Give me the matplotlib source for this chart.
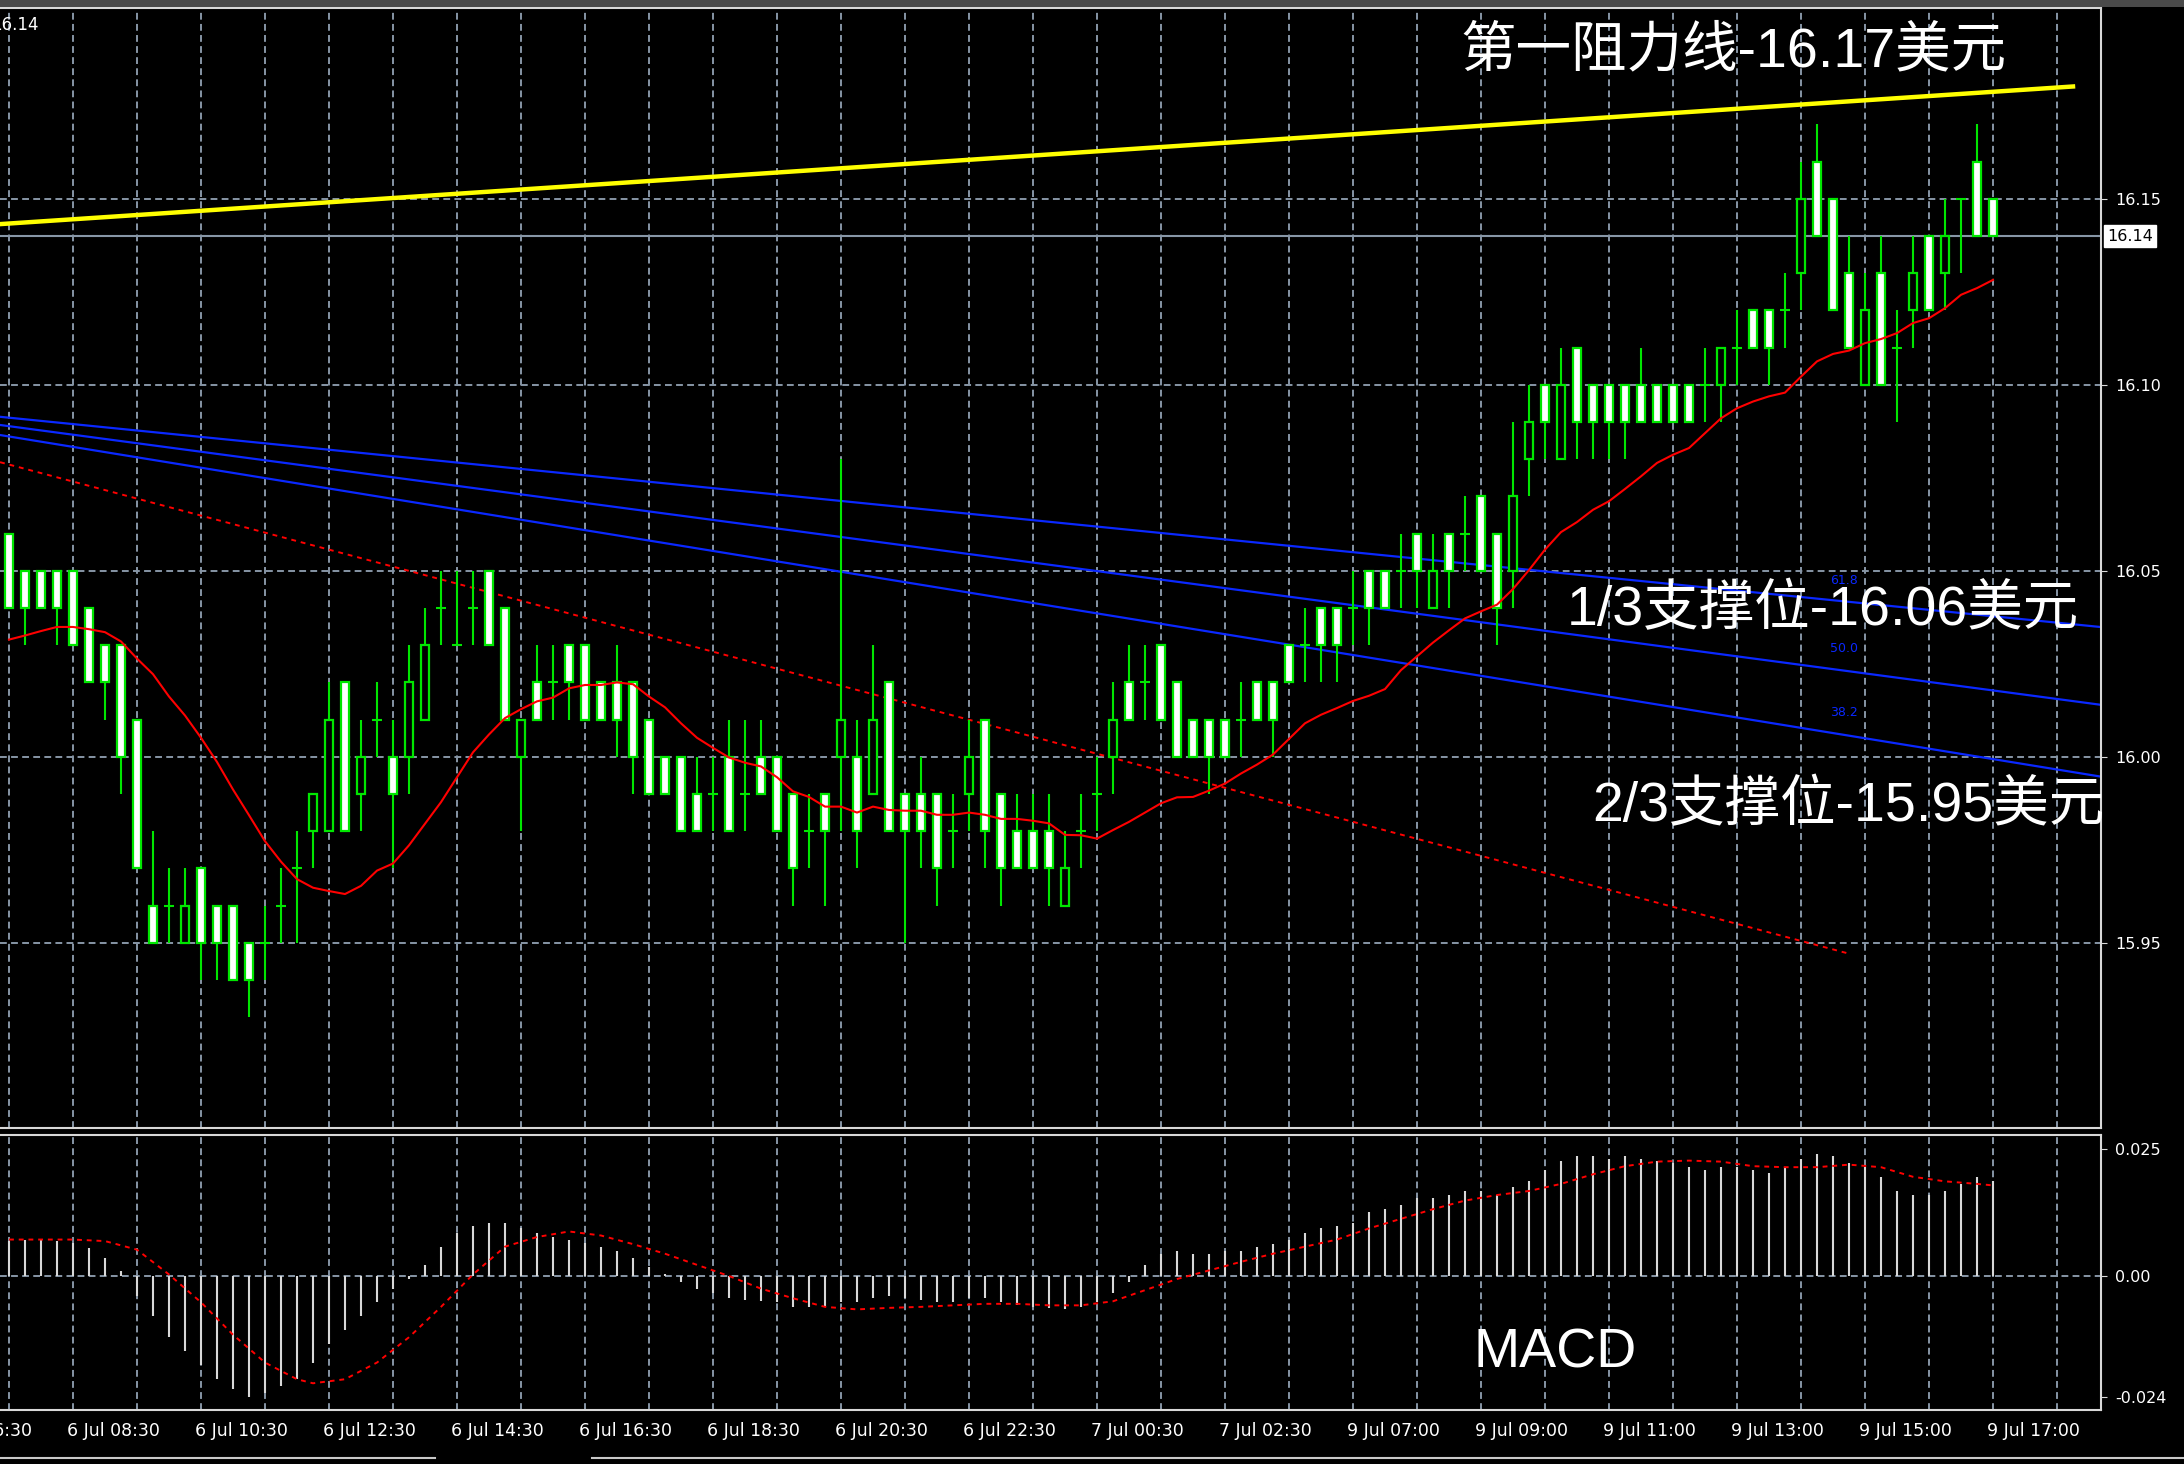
import matplotlib
matplotlib.use('Agg')
import matplotlib.pyplot as plt
import matplotlib.transforms as mtransforms

plt.rcParams['font.family'] = ['Noto Sans CJK SC', 'DejaVu Sans']

# M15 candles, index 0 = 6 Jul 07:30
opens = [16.06, 16.05, 16.05, 16.05, 16.05, 16.04, 16.03, 16.03, 16.01, 15.96,
         15.96, 15.95, 15.97, 15.96, 15.96, 15.95, 15.95, 15.96, 15.97, 15.98,
         15.98, 16.02, 15.99, 16.01, 16.00, 16.00, 16.01, 16.04, 16.03, 16.04,
         16.05, 16.04, 16.00, 16.02, 16.02, 16.03, 16.03, 16.02, 16.02, 16.02,
         16.01, 16.00, 16.00, 15.99, 15.99, 16.00, 15.99, 16.00, 16.00, 15.99,
         15.98, 15.99, 16.00, 16.00, 15.99, 16.02, 15.99, 15.99, 15.99, 15.98,
         15.99, 16.01, 15.99, 15.98, 15.98, 15.98, 15.96, 15.98, 15.99, 16.00,
         16.02, 16.02, 16.03, 16.02, 16.01, 16.01, 16.01, 16.01, 16.02, 16.02,
         16.03, 16.03, 16.04, 16.04, 16.04, 16.05, 16.05, 16.05, 16.06, 16.04,
         16.06, 16.06, 16.07, 16.06, 16.05, 16.08, 16.10, 16.08, 16.11, 16.10,
         16.10, 16.10, 16.10, 16.10, 16.10, 16.10, 16.10, 16.10, 16.11, 16.12,
         16.12, 16.12, 16.13, 16.16, 16.15, 16.13, 16.10, 16.13, 16.11, 16.12,
         16.14, 16.13, 16.15, 16.16, 16.15]
highs = [16.06, 16.05, 16.05, 16.05, 16.05, 16.04, 16.03, 16.03, 16.01, 15.98,
         15.97, 15.97, 15.97, 15.96, 15.96, 15.95, 15.96, 15.97, 15.98, 15.99,
         16.02, 16.02, 16.01, 16.02, 16.01, 16.03, 16.04, 16.05, 16.05, 16.05,
         16.05, 16.04, 16.01, 16.03, 16.03, 16.03, 16.03, 16.02, 16.03, 16.02,
         16.01, 16.00, 16.00, 16.00, 16.00, 16.01, 16.01, 16.01, 16.00, 15.99,
         15.99, 15.99, 16.08, 16.01, 16.03, 16.02, 15.99, 16.00, 15.99, 15.99,
         16.01, 16.01, 15.99, 15.99, 15.99, 15.99, 15.98, 15.99, 16.00, 16.02,
         16.03, 16.03, 16.03, 16.02, 16.01, 16.01, 16.01, 16.02, 16.02, 16.02,
         16.03, 16.04, 16.04, 16.04, 16.05, 16.05, 16.05, 16.06, 16.06, 16.06,
         16.06, 16.07, 16.07, 16.06, 16.09, 16.10, 16.10, 16.11, 16.11, 16.10,
         16.10, 16.10, 16.11, 16.10, 16.10, 16.10, 16.11, 16.11, 16.12, 16.12,
         16.12, 16.13, 16.16, 16.17, 16.15, 16.14, 16.13, 16.14, 16.12, 16.14,
         16.14, 16.15, 16.15, 16.17, 16.15]
lows = [16.04, 16.03, 16.04, 16.03, 16.03, 16.02, 16.01, 15.99, 15.97, 15.95,
        15.95, 15.95, 15.94, 15.94, 15.94, 15.93, 15.94, 15.95, 15.95, 15.97,
        15.98, 15.98, 15.98, 16.00, 15.97, 15.99, 16.01, 16.03, 16.03, 16.03,
        16.03, 16.01, 15.98, 16.01, 16.01, 16.01, 16.01, 16.01, 16.00, 15.99,
        15.99, 15.99, 15.98, 15.98, 15.98, 15.98, 15.98, 15.99, 15.98, 15.96,
        15.97, 15.96, 15.98, 15.97, 15.99, 15.98, 15.95, 15.97, 15.96, 15.97,
        15.98, 15.97, 15.96, 15.97, 15.97, 15.96, 15.96, 15.97, 15.98, 15.99,
        16.01, 16.01, 16.01, 16.00, 16.00, 15.99, 16.00, 16.00, 16.01, 16.00,
        16.02, 16.02, 16.02, 16.02, 16.03, 16.03, 16.04, 16.04, 16.04, 16.04,
        16.04, 16.05, 16.05, 16.03, 16.04, 16.07, 16.08, 16.08, 16.08, 16.08,
        16.08, 16.08, 16.09, 16.09, 16.09, 16.09, 16.09, 16.09, 16.10, 16.11,
        16.10, 16.11, 16.12, 16.14, 16.12, 16.11, 16.10, 16.10, 16.09, 16.11,
        16.12, 16.12, 16.13, 16.14, 16.14]
closes = [16.04, 16.04, 16.04, 16.04, 16.03, 16.02, 16.02, 16.00, 15.97, 15.95,
          15.96, 15.96, 15.95, 15.95, 15.94, 15.94, 15.95, 15.96, 15.97, 15.99,
          16.01, 15.98, 16.00, 16.01, 15.99, 16.02, 16.03, 16.04, 16.03, 16.04,
          16.03, 16.01, 16.01, 16.01, 16.02, 16.02, 16.01, 16.01, 16.01, 16.00,
          15.99, 15.99, 15.98, 15.98, 15.99, 15.98, 15.99, 15.99, 15.98, 15.97,
          15.98, 15.98, 16.01, 15.98, 16.01, 15.98, 15.98, 15.98, 15.97, 15.98,
          16.00, 15.98, 15.97, 15.97, 15.97, 15.97, 15.97, 15.98, 15.99, 16.01,
          16.01, 16.02, 16.01, 16.00, 16.00, 16.00, 16.00, 16.01, 16.01, 16.01,
          16.02, 16.03, 16.03, 16.03, 16.04, 16.04, 16.04, 16.05, 16.05, 16.05,
          16.05, 16.06, 16.05, 16.04, 16.07, 16.09, 16.09, 16.10, 16.09, 16.09,
          16.09, 16.09, 16.09, 16.09, 16.09, 16.09, 16.10, 16.11, 16.11, 16.11,
          16.11, 16.12, 16.15, 16.14, 16.12, 16.11, 16.12, 16.10, 16.11, 16.13,
          16.12, 16.14, 16.15, 16.14, 16.14]

# moving average (red line), one value per candle
ma_line = [16.0315, 16.0326, 16.0338, 16.0349, 16.0349, 16.0343, 16.0335, 16.0310, 16.0264, 16.0222,
           16.0162, 16.0111, 16.0051, 15.9986, 15.9912, 15.9843, 15.9773, 15.9718, 15.9671, 15.9648,
           15.9639, 15.9631, 15.9653, 15.9694, 15.9713, 15.9762, 15.9820, 15.9878, 15.9945, 16.0012,
           16.0060, 16.0104, 16.0128, 16.0149, 16.0159, 16.0184, 16.0193, 16.0193, 16.0200, 16.0195,
           16.0162, 16.0133, 16.0090, 16.0051, 16.0024, 15.9998, 15.9984, 15.9974, 15.9945, 15.9907,
           15.9892, 15.9866, 15.9866, 15.9850, 15.9866, 15.9857, 15.9855, 15.9855, 15.9844, 15.9844,
           15.9850, 15.9844, 15.9833, 15.9833, 15.9828, 15.9821, 15.9790, 15.9789, 15.9780, 15.9803,
           15.9825, 15.9850, 15.9875, 15.9891, 15.9892, 15.9909, 15.9928, 15.9955, 15.9979, 16.0006,
           16.0048, 16.0090, 16.0113, 16.0131, 16.0150, 16.0164, 16.0182, 16.0233, 16.0270, 16.0307,
           16.0340, 16.0372, 16.0391, 16.0409, 16.0451, 16.0502, 16.0557, 16.0604, 16.0631, 16.0664,
           16.0687, 16.0720, 16.0754, 16.0790, 16.0812, 16.0830, 16.0870, 16.0910, 16.0937, 16.0955,
           16.0969, 16.0979, 16.1022, 16.1063, 16.1083, 16.1092, 16.1112, 16.1123, 16.1139, 16.1166,
           16.1179, 16.1206, 16.1242, 16.1260, 16.1282]

# MACD main (histogram), x1000
macd_hist = [7.0, 7.2, 7.2, 7.0, 6.6, 5.5, 3.5, 1.0, -3.9, -8.0,
             -12.1, -14.9, -17.6, -20.4, -22.3, -24.0, -23.1, -21.8, -20.4, -17.1,
             -13.5, -10.7, -8.0, -5.2, -2.5, -0.6, 2.2, 5.8, 8.5, 9.9,
             10.5, 10.5, 9.4, 8.5, 7.7, 7.2, 6.6, 5.8, 5.0, 3.6,
             1.7, 0.3, -1.1, -2.5, -3.3, -4.4, -4.7, -5.0, -5.2, -6.1,
             -6.1, -6.1, -5.2, -5.2, -4.4, -3.9, -4.4, -4.7, -5.2, -5.2,
             -4.4, -4.4, -5.2, -5.8, -6.1, -6.3, -6.6, -6.1, -5.2, -3.3,
             -1.1, 2.2, 4.4, 5.0, 4.4, 4.4, 5.0, 5.0, 5.8, 6.3,
             7.2, 8.5, 9.4, 9.9, 10.5, 12.7, 13.2, 14.0, 15.4, 15.4,
             16.0, 16.8, 16.8, 16.0, 17.6, 18.7, 20.9, 22.8, 23.7, 23.7,
             23.1, 23.7, 23.1, 22.8, 22.3, 21.5, 20.9, 21.5, 21.5, 20.9,
             20.4, 21.5, 23.1, 24.2, 23.7, 22.3, 21.5, 19.6, 16.8, 16.0,
             16.0, 16.8, 18.2, 19.6, 18.7]

# MACD signal (red dashed), x1000, sampled at these candles
signal_idx = [0, 4, 6, 8, 10, 12, 14, 16, 18, 19, 21, 23, 25, 27, 29, 31, 33, 35, 37, 39,
              41, 43, 45, 47, 49, 51, 53, 55, 57, 59, 61, 63, 65, 67, 69, 71, 73, 75, 77, 79,
              81, 83, 85, 87, 89, 91, 93, 95, 97, 99, 101, 103, 105, 107, 109, 111, 113, 115,
              117, 119, 121, 123, 124]
signal_val = [7.2, 7.2, 6.9, 5.2, 0.3, -5.2, -11.6, -17.1, -20.4, -21.2, -20.4, -17.1, -12.1, -6.1,
              0.3, 5.8, 7.7, 8.8, 8.0, 6.3, 4.4, 2.2, 0.0, -2.5, -4.4, -6.1, -6.6, -6.3, -6.1,
              -5.8, -5.5, -5.5, -5.8, -5.8, -5.0, -2.8, -0.6, 1.1, 2.8, 4.4, 5.8, 7.2, 9.4,
              11.3, 13.2, 14.9, 16.0, 16.8, 18.2, 20.1, 21.7, 22.6, 22.8, 22.6, 21.7, 21.5,
              21.5, 22.0, 21.5, 19.6, 18.7, 18.2, 17.9]

# drawn lines: (start index, end index), (start price, end price)
resist_x, resist_y = [-0.56, 129.0], [16.1432, 16.1802]
fib_x = [-0.56, 130.69]
fib_618 = [16.0914, 16.0349]
fib_500 = [16.0892, 16.0140]
fib_382 = [16.0865, 15.9947]
trend_x, trend_y = [-0.56, 115.06], [16.0792, 15.947]

price_ticks = [15.95, 16.00, 16.05, 16.10, 16.15]
price_labels = ['15.95', '16.00', '16.05', '16.10', '16.15']
last_price = 16.14
macd_ticks = [0.025, 0.0, -0.024]
macd_labels = ['0.025', '0.00', '-0.024']
time_idx = [-4, 4, 12, 20, 28, 36, 44, 52, 60, 68, 76, 84, 92, 100, 108, 116, 124]
time_labels = ['6 Jul 06:30', '6 Jul 08:30', '6 Jul 10:30', '6 Jul 12:30', '6 Jul 14:30',
               '6 Jul 16:30', '6 Jul 18:30', '6 Jul 20:30', '6 Jul 22:30', '7 Jul 00:30',
               '7 Jul 02:30', '9 Jul 07:00', '9 Jul 09:00', '9 Jul 11:00', '9 Jul 13:00',
               '9 Jul 15:00', '9 Jul 17:00']

W, H = 2184, 1464
GRID = '#8796a6'
FRAME = '#d8d8d8'
GREEN = '#00e600'
NOTE_FONT = ['Liberation Sans', 'Noto Sans CJK SC']


def fx(x):
    return x / W


def fy(y):
    return 1 - y / H


fig = plt.figure(figsize=(W / 100, H / 100), dpi=100, facecolor='black')
ax = fig.add_axes([0, fy(1128), fx(2101), fy(8) - fy(1128)], facecolor='black')
ax2 = fig.add_axes([0, fy(1410), fx(2101), fy(1135) - fy(1410)], facecolor='black')

n = len(opens)
idx = list(range(n))
xmin, xmax = -0.5625, 130.75

for a in (ax, ax2):
    a.set_xlim(xmin, xmax)
    for s in a.spines.values():
        s.set_color(FRAME)
        s.set_linewidth(1.5)
    a.spines['left'].set_visible(False)
    a.set_xticks([])
    # vertical grid every hour (4 candles)
    for g in range(0, n + 4, 4):
        a.axvline(g, color=GRID, lw=1.4, ls=(0, (3.5, 2.2)), zorder=0)

ax.set_ylim(15.9002, 16.2013)
for p in price_ticks:
    ax.axhline(p, color=GRID, lw=1.4, ls=(0, (3.5, 2.2)), zorder=0)
ax.axhline(last_price, color=GRID, lw=1.5, zorder=1)

# candles
bw = 0.52
for i in idx:
    o, h, l, c = opens[i], highs[i], lows[i], closes[i]
    top, bot = max(o, c), min(o, c)
    if h > top:
        ax.vlines(i, top, h, color=GREEN, lw=1.5, zorder=3)
    if l < bot:
        ax.vlines(i, l, bot, color=GREEN, lw=1.5, zorder=3)
    if top == bot:
        ax.hlines(top, i - bw / 2 - 0.06, i + bw / 2 + 0.06, color=GREEN, lw=1.5, zorder=4)
    else:
        face = 'white' if c < o else 'black'
        ax.bar(i, top - bot, bottom=bot, width=bw, facecolor=face, edgecolor=GREEN,
               linewidth=1.6, zorder=4)

ax.plot(idx, ma_line, color='#ff0000', lw=1.5, zorder=5)
ax.plot(resist_x, resist_y, color='#ffff00', lw=3.2, zorder=5)
for fl in (fib_618, fib_500, fib_382):
    ax.plot(fib_x, fl, color='#0a28ff', lw=1.6, zorder=2)
ax.plot(trend_x, trend_y, color='#ff0000', lw=1.4, ls=(0, (2.5, 2.5)), zorder=2)

# fib level labels
for lab, fl in (('61.8', fib_618), ('50.0', fib_500), ('38.2', fib_382)):
    xl = 113.8
    yl = fl[0] + (fl[1] - fl[0]) * (xl - fib_x[0]) / (fib_x[1] - fib_x[0])
    ax.text(xl, yl + 0.0036, lab, color='#0a28ff', fontsize=9, va='bottom', ha='left',
            family=['DejaVu Sans'], zorder=1)

# right price axis
ax.yaxis.tick_right()
ax.set_yticks(price_ticks)
ax.set_yticklabels(price_labels, family=['DejaVu Sans'])
ax.tick_params(axis='y', colors=FRAME, labelcolor='white', labelsize=11.5, length=4, pad=6)
trans = mtransforms.blended_transform_factory(ax.transAxes, ax.transData)
ax.text(1.003, last_price, '16.14', transform=trans, color='black', fontsize=11.5, va='center',
        ha='left', family=['DejaVu Sans'],
        bbox=dict(boxstyle='square,pad=0.2', facecolor='white', edgecolor='white'))

# MACD panel
ax2.set_ylim(-0.02648, 0.02786)
ax2.axhline(0, color=GRID, lw=1.4, ls=(0, (3.5, 2.2)), zorder=0)
ax2.vlines(idx, 0, [v / 1000 for v in macd_hist], color='#d8d8d8', lw=1.5, zorder=3)
ax2.plot(signal_idx, [v / 1000 for v in signal_val], color='#ff0000', lw=1.4,
         ls=(0, (2.5, 2.5)), zorder=4)
ax2.yaxis.tick_right()
ax2.set_yticks(macd_ticks)
ax2.set_yticklabels(macd_labels, family=['DejaVu Sans'])
ax2.tick_params(axis='y', colors=FRAME, labelcolor='white', labelsize=11.5, length=4, pad=6)

# time axis
ttrans = mtransforms.blended_transform_factory(ax2.transData, ax2.transAxes)
for t, lab in zip(time_idx, time_labels):
    ax2.text(t - 0.35, -0.077, lab, transform=ttrans, color='white', fontsize=12.5,
             ha='left', va='center', family=['DejaVu Sans'], clip_on=False)

# top frame and bottom tab strip
fig.patches.append(plt.Rectangle((0, fy(7)), 1, 1 - fy(7), transform=fig.transFigure,
                                 facecolor='#4a4a4a', edgecolor='none'))
fig.lines.append(plt.Line2D([0, fx(435)], [fy(1458), fy(1458)], transform=fig.transFigure,
                            color='#c8c8c8', lw=1.5))
fig.lines.append(plt.Line2D([fx(592), 1], [fy(1458), fy(1458)], transform=fig.transFigure,
                            color='#c8c8c8', lw=1.5))
fig.text(fx(-9), fy(25), '16.14', color='white', fontsize=12, va='center', ha='left',
         family=['DejaVu Sans'])

# annotations
fig.text(fx(1460), fy(52), '第一阻力线-16.17美元', color='white', fontsize=40, va='center',
         ha='left', family=NOTE_FONT)
fig.text(fx(1567), fy(611), '1/3支撑位-16.06美元', color='white', fontsize=40, va='center',
         ha='left', family=NOTE_FONT)
fig.text(fx(1592), fy(807), '2/3支撑位-15.95美元', color='white', fontsize=40, va='center',
         ha='left', family=NOTE_FONT)
fig.text(fx(1474), fy(1353), 'MACD', color='white', fontsize=40, va='center', ha='left',
         family=NOTE_FONT)

fig.savefig('out.png', dpi=100, facecolor='black')
